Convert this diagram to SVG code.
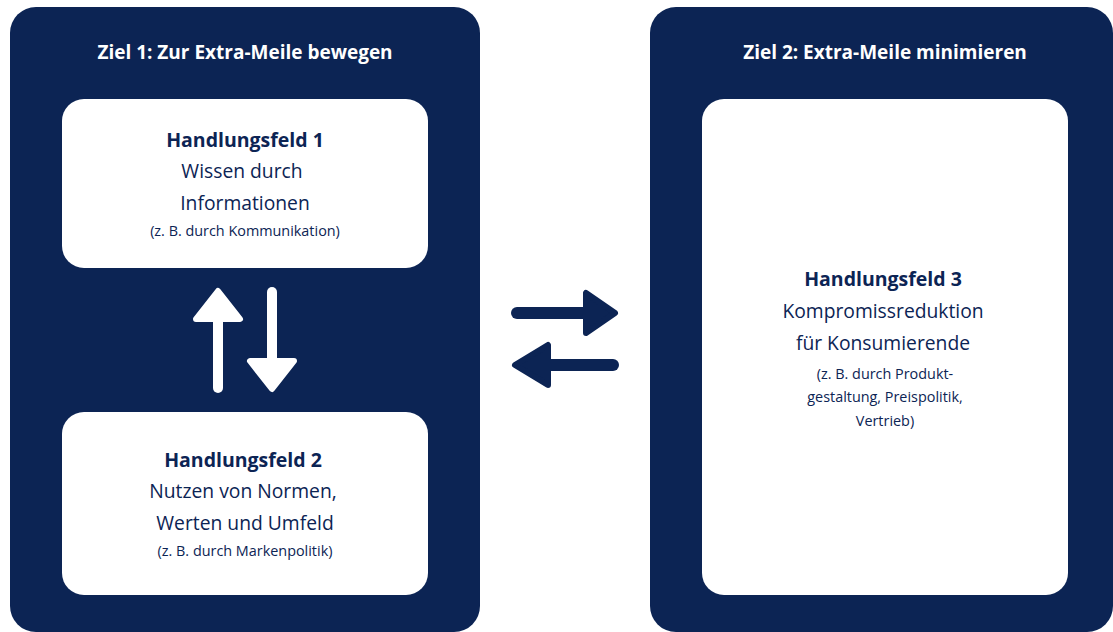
<svg xmlns="http://www.w3.org/2000/svg" width="1113" height="632" viewBox="0 0 1113 632">
<style>
.panel{fill:#0c2454}
.box{fill:#ffffff}
.t{font-family:"Open Sans","Liberation Sans",sans-serif;text-anchor:middle}
.title{font-size:19px;font-weight:700;fill:#ffffff}
.h{font-size:19.5px;font-weight:700;fill:#0c2454}
.n{font-size:19.3px;fill:#0c2454}
.s{font-size:14.4px;fill:#0c2454}
.wa{fill:#ffffff;stroke:#ffffff;stroke-linejoin:round;stroke-width:6}
.ws{stroke:#ffffff;stroke-width:10;stroke-linecap:round}
.da{fill:#0c2454;stroke:#0c2454;stroke-linejoin:round;stroke-width:6}
.ds{stroke:#0c2454;stroke-width:12;stroke-linecap:round}
</style>
<rect width="1113" height="632" fill="#ffffff"/>
<g id="ziel1">
<rect class="panel" x="10" y="7" width="470" height="625" rx="26"/>
<text class="t title" x="245" y="59">Ziel 1: Zur Extra-Meile bewegen</text>
</g>
<g id="ziel2">
<rect class="panel" x="650" y="7" width="463" height="625" rx="26"/>
<text class="t title" x="885" y="59">Ziel 2: Extra-Meile minimieren</text>
</g>
<g id="handlungsfeld1">
<rect class="box" x="62" y="99" width="366" height="169" rx="22"/>
<text class="t h" x="245" y="147">Handlungsfeld 1</text>
<text class="t n" x="242" y="178">Wissen durch</text>
<text class="t n" x="245" y="210">Informationen</text>
<text class="t s" x="245" y="236">(z. B. durch Kommunikation)</text>
</g>
<g id="handlungsfeld2">
<rect class="box" x="62" y="412" width="366" height="183" rx="22"/>
<text class="t h" x="243" y="467">Handlungsfeld 2</text>
<text class="t n" x="243" y="498">Nutzen von Normen,</text>
<text class="t n" x="245" y="530">Werten und Umfeld</text>
<text class="t s" x="245" y="556">(z. B. durch Markenpolitik)</text>
</g>
<g id="handlungsfeld3">
<rect class="box" x="702" y="99" width="366" height="496" rx="22"/>
<text class="t h" x="883" y="286">Handlungsfeld 3</text>
<text class="t n" x="883" y="318">Kompromissreduktion</text>
<text class="t n" x="883" y="350">für Konsumierende</text>
<text class="t s" x="885" y="379">(z. B. durch Produkt-</text>
<text class="t s" x="885" y="402">gestaltung, Preispolitik,</text>
<text class="t s" x="885" y="426">Vertrieb)</text>
</g>
<g id="connectors">
<line class="ws" x1="218" y1="388" x2="218" y2="315"/>
<polygon class="wa" points="218,291 240,319 196,319"/>
<line class="ws" x1="272" y1="292" x2="272" y2="365"/>
<polygon class="wa" points="272,389 250,361 294,361"/>
<line class="ds" x1="517" y1="313" x2="590" y2="313"/>
<polygon class="da" points="615,313 586,293 586,333"/>
<line class="ds" x1="613" y1="365" x2="540" y2="365"/>
<polygon class="da" points="515,365 548,345 548,385"/>
</g>
</svg>
